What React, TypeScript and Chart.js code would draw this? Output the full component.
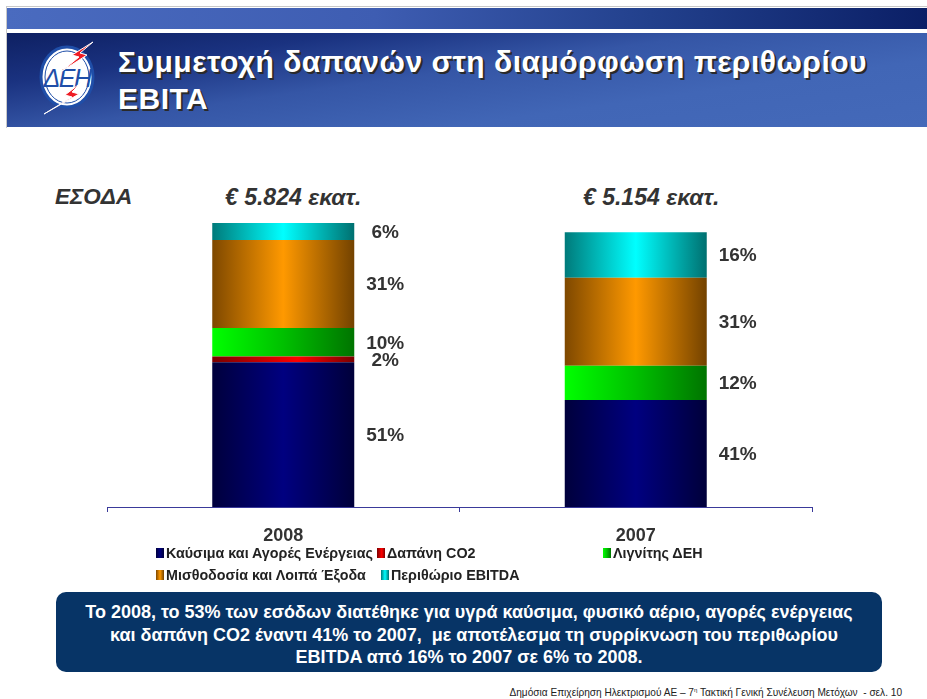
import React, { useEffect, useRef } from "react";
import { Chart, registerables } from "chart.js";
Chart.register(...registerables);

// ---------- data ----------
const years = ["2008", "2007"];
const seriesNames = [
  "Καύσιμα και Αγορές Ενέργειας",
  "Δαπάνη CO2",
  "Λιγνίτης ΔΕΗ",
  "Μισθοδοσία και Λοιπά Έξοδα",
  "Περιθώριο EBITDA",
];
const fuelValues = [51, 37.7];
const co2Values = [2, 0];
const ligniteValues = [10, 12];
const payrollValues = [31, 31];
const ebitdaValues = [6, 16];

const fuelLabels = ["51%", "41%"];
const co2Labels = ["2%", ""];
const ligniteLabels = ["10%", "12%"];
const payrollLabels = ["31%", "31%"];
const ebitdaLabels = ["6%", "16%"];

const revenueLabels = ["€ 5.824 εκατ.", "€ 5.154 εκατ."];

// ---------- styles ----------
const FONT = 'Arial, "Liberation Sans", Helvetica, sans-serif';
const BAR_PCT = 142 / 352.5;

const gradStops: [number, string][][] = [
  [[0, "#00003c"], [0.5, "#000080"], [1, "#00003a"]],
  [[0, "#7a0000"], [0.6, "#ff0000"], [1, "#7a0000"]],
  [[0, "#00ff00"], [0.5, "#00c000"], [1, "#007400"]],
  [[0, "#7e4800"], [0.5, "#ff9900"], [1, "#734200"]],
  [[0, "#007a7a"], [0.5, "#00ffff"], [1, "#007070"]],
];
const solid = ["#000080", "#ff0000", "#00c000", "#ff9900", "#00ffff"];

const cssGrad = (i: number) =>
  `linear-gradient(to right, ${gradStops[i].map(([o, c]) => `${c} ${o * 100}%`).join(", ")})`;

const makeBg = (i: number) => (ctx: any) => {
  const chart = ctx.chart;
  const xs = chart.scales && chart.scales.x;
  if (!chart.chartArea || !xs || ctx.type !== "data") return solid[i];
  const cx = xs.getPixelForValue(ctx.dataIndex);
  const half = (xs.width / years.length) * BAR_PCT / 2;
  const g = chart.ctx.createLinearGradient(cx - half, 0, cx + half, 0);
  gradStops[i].forEach(([o, c]) => g.addColorStop(o, c));
  return g;
};

const allLabels = [fuelLabels, co2Labels, ligniteLabels, payrollLabels, ebitdaLabels];

const labelPlugin = {
  id: "pctLabels",
  afterDatasetsDraw(chart: any) {
    const { ctx } = chart;
    ctx.save();
    ctx.font = `bold 19px ${FONT}`;
    ctx.fillStyle = "#333333";
    ctx.textAlign = "center";
    ctx.textBaseline = "middle";
    chart.data.datasets.forEach((_ds: any, i: number) => {
      const meta = chart.getDatasetMeta(i);
      meta.data.forEach((el: any, j: number) => {
        const t = allLabels[i][j];
        if (!t) return;
        const { x, y, base, width } = el.getProps(["x", "y", "base", "width"], true);
        ctx.fillText(t, x + width / 2 + 31, (y + base) / 2 + 1);
      });
    });
    ctx.restore();
  },
};

function BarChart() {
  const ref = useRef<HTMLCanvasElement>(null);
  useEffect(() => {
    const values = [fuelValues, co2Values, ligniteValues, payrollValues, ebitdaValues];
    const chart = new Chart(ref.current as HTMLCanvasElement, {
      type: "bar",
      data: {
        labels: years,
        datasets: values.map((v, i) => ({
          label: seriesNames[i],
          data: v,
          backgroundColor: makeBg(i),
          borderWidth: 0,
          barPercentage: BAR_PCT,
          categoryPercentage: 1,
        })),
      },
      options: {
        animation: false,
        responsive: false,
        maintainAspectRatio: false,
        devicePixelRatio: 1,
        layout: { padding: { top: 16.2, bottom: 0, left: 107, right: 115 } },
        plugins: { legend: { display: false }, tooltip: { enabled: false } },
        scales: {
          x: {
            stacked: true,
            offset: true,
            border: { display: true, color: "#3a3a9a", width: 1 },
            grid: {
              display: true,
              drawOnChartArea: false,
              drawTicks: true,
              tickLength: 5,
              color: "#3a3a9a",
              offset: true,
            },
            ticks: {
              color: "#333333",
              font: { family: FONT, size: 18, weight: "bold" },
              padding: 13,
            },
            afterFit: (s: any) => {
              s.height = 43;
            },
          },
          y: { stacked: true, display: false, min: 0, max: 120 },
        },
      } as any,
      plugins: [labelPlugin],
    });
    return () => chart.destroy();
  }, []);
  return (
    <canvas
      ref={ref}
      width={927}
      height={400}
      style={{ position: "absolute", left: 0, top: 150, width: 927, height: 400 }}
    />
  );
}

function Logo() {
  return (
    <svg width="64" height="74" viewBox="0 0 64 74" style={{ position: "absolute", left: 35, top: 41 }}>
      <ellipse cx="32" cy="36" rx="26" ry="30" fill="#ffffff" stroke="#1f4ea8" strokeWidth="3" />
      <ellipse cx="32" cy="36" rx="22" ry="26" fill="none" stroke="#1f4ea8" strokeWidth="1" />
      <text
        x="32"
        y="46"
        textAnchor="middle"
        fontFamily={FONT}
        fontStyle="italic"
        fontSize="25"
        fill="#1f4ea8"
        letterSpacing="-1.5"
      >
        ΔΕΗ
      </text>
      <polygon
        points="58,1 37,14 44,16 27,30 52,14 45,12"
        fill="#ee1c24"
        stroke="#ffffff"
        strokeWidth="1"
        strokeLinejoin="round"
      />
      <polygon
        points="47,41 30,54 37,56 9,73 44,53 37,51"
        fill="#ee1c24"
        stroke="#ffffff"
        strokeWidth="1"
        strokeLinejoin="round"
      />
    </svg>
  );
}

const legendRows = [
  [
    { i: 0, x: 156 },
    { i: 1, x: 377 },
    { i: 2, x: 603 },
  ],
  [
    { i: 3, x: 156 },
    { i: 4, x: 381 },
  ],
];
const legendRowY = [553, 575];

export default function App() {
  return (
    <div
      style={{
        position: "absolute",
        left: 0,
        top: 0,
        width: 927,
        height: 699,
        background: "#ffffff",
        overflow: "hidden",
        fontFamily: FONT,
      }}
    >
      {/* slide frame lines */}
      <div style={{ position: "absolute", left: 6, top: 6, width: 921, height: 1, background: "#c8c8c8" }} />
      <div style={{ position: "absolute", left: 6, top: 6, width: 1, height: 122, background: "#c8c8c8" }} />
      {/* top band */}
      <div
        style={{
          position: "absolute",
          left: 7,
          top: 8,
          width: 920,
          height: 21,
          background: "linear-gradient(to right, #4a6bbf 0%, #3e5db2 40%, #22408c 70%, #0b1f66 100%)",
        }}
      />
      {/* header band */}
      <div
        style={{
          position: "absolute",
          left: 7,
          top: 33,
          width: 920,
          height: 94,
          background:
            "linear-gradient(172deg, #0e2062 0%, #1a3280 22%, #3556a6 45%, #4166b6 70%, #4469b9 100%)",
        }}
      />
      <Logo />
      <div
        style={{
          position: "absolute",
          left: 118,
          top: 43,
          color: "#ffffff",
          fontWeight: "bold",
          fontSize: 30,
          letterSpacing: 0.5,
          lineHeight: "37px",
          textShadow: "2px 2px 0 #2a2a2a",
          whiteSpace: "nowrap",
        }}
      >
        Συμμετοχή δαπανών στη διαμόρφωση περιθωρίου
        <br />
        EBITA
      </div>

      {/* headings above bars */}
      <div
        style={{
          position: "absolute",
          left: 55,
          top: 184,
          lineHeight: "26px",
          fontSize: 22.5,
          fontWeight: "bold",
          fontStyle: "italic",
          color: "#333333",
        }}
      >
        ΕΣΟΔΑ
      </div>
      {revenueLabels.map((t, k) => (
        <div
          key={t}
          style={{
            position: "absolute",
            left: k === 0 ? 225 : 583,
            top: 184,
            lineHeight: "26px",
            fontSize: 23,
            fontWeight: "bold",
            fontStyle: "italic",
            color: "#333333",
            whiteSpace: "nowrap",
          }}
        >
          {t}
        </div>
      ))}

      <BarChart />

      {/* legend */}
      {legendRows.map((row, r) =>
        row.map(({ i, x }) => (
          <div
            key={i}
            style={{
              position: "absolute",
              left: x,
              top: legendRowY[r] - 9,
              height: 18,
              display: "flex",
              alignItems: "center",
              whiteSpace: "nowrap",
            }}
          >
            <span style={{ display: "inline-block", width: 8, height: 10, background: cssGrad(i), marginRight: 2 }} />
            <span style={{ fontSize: 14.3, fontWeight: "bold", color: "#222222" }}>{seriesNames[i]}</span>
          </div>
        ))
      )}

      {/* bottom note box */}
      <div
        style={{
          position: "absolute",
          left: 56,
          top: 592,
          width: 826,
          height: 80,
          borderRadius: 10,
          background: "#073466",
          color: "#ffffff",
          fontWeight: "bold",
          fontSize: 18,
          lineHeight: "22.5px",
          textAlign: "center",
          paddingTop: 9,
          boxSizing: "border-box",
          whiteSpace: "pre",
        }}
      >
        {"Το 2008, το 53% των εσόδων διατέθηκε για υγρά καύσιμα, φυσικό αέριο, αγορές ενέργειας\n  και δαπάνη CO2 έναντι 41% το 2007,  με αποτέλεσμα τη συρρίκνωση του περιθωρίου\nEBITDA από 16% το 2007 σε 6% το 2008."}
      </div>

      {/* footer */}
      <div
        style={{
          position: "absolute",
          right: 25,
          top: 683,
          fontSize: 10.1,
          lineHeight: "14px",
          color: "#222222",
          whiteSpace: "pre",
        }}
      >
        Δημόσια Επιχείρηση Ηλεκτρισμού ΑΕ – 7<sup style={{ fontSize: 6 }}>η</sup> Τακτική Γενική Συνέλευση Μετόχων  - σελ. 10
      </div>
    </div>
  );
}
